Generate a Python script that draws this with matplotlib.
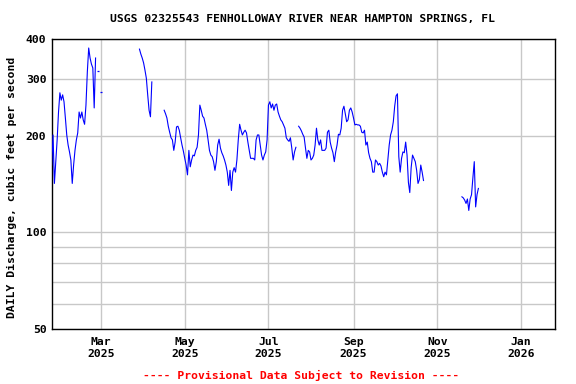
import pandas as pd
import numpy as np
import matplotlib
matplotlib.use("Agg")
import matplotlib.pyplot as plt
import matplotlib.dates as mdates
from matplotlib.ticker import FixedLocator, NullFormatter

# ---------------------------------------------------------
# Data (daily discharge, cfs) - gaps split into segments
# ---------------------------------------------------------
seg1_start = "2025-01-24"
seg1_cfs = [162, 201, 142, 166, 194, 237, 272, 258, 268, 255,
            227, 201, 187, 178, 168, 142, 162, 180, 194, 204,
            237, 227, 237, 224, 217, 249, 316, 375, 349, 334,
            325, 244, 349]

# single isolated days
spot_dates = ["2025-02-27", "2025-03-01"]
spot_cfs = [318, 274]

seg2_start = "2025-03-29"
seg2_cfs = [372, 359, 349, 337, 320, 302, 268, 240, 229, 294]

seg3_start = "2025-04-16"
seg3_cfs = [240, 234, 227, 214, 205, 197, 194, 180, 191, 213,
            214, 208, 197, 187, 179, 170, 162, 151, 180, 160,
            168, 174, 173, 180, 184, 201, 249, 240, 230, 227,
            217, 208, 194, 180, 174, 172, 166, 156, 166, 187,
            195, 183, 177, 173, 168, 162, 154, 140, 156, 135,
            154, 159, 154, 168, 194, 217, 208, 201, 205, 208,
            204, 191, 180, 170, 170, 170, 168, 194, 201, 201,
            187, 174, 168, 174, 178, 194, 249, 255, 244, 251,
            240, 249, 251, 237, 230, 224, 221, 216, 211, 197,
            194, 192, 197, 183, 168, 178, 184]

seg4_start = "2025-07-23"
seg4_cfs = [214, 211, 207, 202, 198, 183, 170, 180, 178, 168,
            170, 174, 187, 211, 194, 187, 194, 180, 180, 180,
            183, 205, 208, 191, 183, 177, 166, 178, 187, 202,
            201, 211, 240, 247, 234, 221, 224, 240, 244, 237,
            227, 216, 217, 216, 216, 214, 205, 204, 208, 187,
            191, 177, 170, 166, 154, 154, 168, 166, 162, 164,
            161, 154, 149, 154, 151, 168, 187, 201, 208, 221,
            247, 266, 270, 172, 154, 170, 178, 177, 191, 174,
            143, 133, 159, 174, 170, 166, 156, 142, 146, 162,
            154, 145]

seg5_start = "2025-11-19"
seg5_cfs = [129, 128, 126, 123, 127, 117, 127, 131, 148, 166,
            120, 131, 137]

segments = [(seg1_start, seg1_cfs), (seg2_start, seg2_cfs),
            (seg3_start, seg3_cfs), (seg4_start, seg4_cfs),
            (seg5_start, seg5_cfs)]

TITLE = "USGS 02325543 FENHOLLOWAY RIVER NEAR HAMPTON SPRINGS, FL"
YLABEL = "DAILY Discharge, cubic feet per second"
FOOTER = "---- Provisional Data Subject to Revision ----"

# ---------------------------------------------------------
# Plot
# ---------------------------------------------------------
plt.rcParams["font.family"] = "DejaVu Sans Mono"
plt.rcParams["font.weight"] = "bold"

fig = plt.figure(figsize=(5.76, 3.84), dpi=100)
ax = fig.add_axes([52 / 576, 1 - 329 / 384, 503 / 576, 290 / 384])

for start, vals in segments:
    dates = pd.date_range(start, periods=len(vals), freq="D")
    ax.plot(dates, vals, color="#0000ff", lw=0.8, zorder=3)

ax.plot(pd.to_datetime(spot_dates), spot_cfs, ls="none", marker="_",
        ms=1.8, mew=0.9, color="#0000ff", zorder=3)

ax.set_yscale("log")
ax.set_ylim(50, 400)
ax.yaxis.set_major_locator(FixedLocator([50, 100, 200, 300, 400]))
ax.yaxis.set_minor_locator(FixedLocator([60, 70, 80, 90]))
ax.yaxis.set_major_formatter(plt.FuncFormatter(lambda v, p: f"{v:.0f}"))
ax.yaxis.set_minor_formatter(NullFormatter())

ax.set_xlim(pd.Timestamp("2025-01-24 06:00"), pd.Timestamp("2026-01-25 20:00"))
ax.xaxis.set_major_locator(mdates.MonthLocator(bymonth=[1, 3, 5, 7, 9, 11]))
ax.xaxis.set_major_formatter(mdates.DateFormatter("%b\n%Y"))

ax.grid(True, which="both", color="#c8c8c8", lw=1.0, zorder=1)
ax.tick_params(which="both", length=0, labelsize=8.2, pad=4)
ax.tick_params(axis="x", pad=6)
for lbl in ax.get_xticklabels() + ax.get_yticklabels():
    lbl.set_fontweight("bold")
for sp in ax.spines.values():
    sp.set_linewidth(1.0)
    sp.set_color("black")

fig.text(303 / 576, 1 - 19 / 384, TITLE, ha="center", va="center",
         fontsize=8.2, fontweight="bold")
fig.text(12 / 576, 1 - 187 / 384, YLABEL, rotation=90, ha="center",
         va="center", fontsize=8.2, fontweight="bold")
fig.text(301 / 576, 1 - 375 / 384, FOOTER, ha="center", va="center",
         fontsize=8.2, fontweight="bold", color="red")

fig.savefig("out.png", dpi=100)
